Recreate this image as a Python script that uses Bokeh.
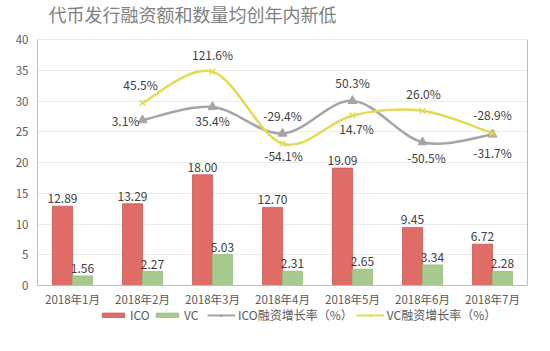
from bokeh.plotting import figure
from bokeh.models import (Range1d, FixedTicker, ColumnDataSource, Legend, LegendItem, Label, LinearAxis)
from bokeh.core.properties import value
from bokeh.embed import file_html
from bokeh.resources import INLINE

# ---- data ----
months = ["2018年1月", "2018年2月", "2018年3月", "2018年4月", "2018年5月", "2018年6月", "2018年7月"]
ico = [12.89, 13.29, 18.00, 12.70, 19.09, 9.45, 6.72]
vc = [1.56, 2.27, 5.03, 2.31, 2.65, 3.34, 2.28]
rate_months = months[1:]
ico_rate = [3.1, 35.4, -29.4, 50.3, -50.5, -31.7]
vc_rate = [45.5, 121.6, -54.1, 14.7, 26.0, -28.9]
y_ticks = [0, 5, 10, 15, 20, 25, 30, 35, 40]
title_text = "代币发行融资额和数量均创年内新低"

FONT = "Noto Sans CJK SC"
RED = "#E06C67"
RED_EDGE = "#C95B56"
GREEN = "#A7CB8F"
GREEN_EDGE = "#97BC80"
GRAY = "#A5A5A5"
YELLOW = "#E3DA55"
TXT = "#404040"
AX = "#BFBFBF"

# label offsets (screen px) for the rate labels  -- style only
ico_off = [(-17, 0), (0, 14), (0, -18), (0, -18), (4, 15), (0, 18)]
vc_off = [(-2, -18), (0, -17), (1, 12), (4, 13), (1, -17), (0, -19)]

# layout: the frame covers the page from y=0 to y=330; value axis 0..40 spans
# canvas y 285..39; title above and legend below live inside the frame.
FRAME_H = 330
TOP40, ZERO = 39, 285
PX_PER_UNIT = (ZERO - TOP40) / 40
y_hi = 40 + TOP40 / PX_PER_UNIT
y_lo = -(FRAME_H - ZERO) / PX_PER_UNIT
RATE_LO, RATE_HI = -400, 200
rpu = (RATE_HI - RATE_LO) / 40

p = figure(width=550, height=351, frame_width=490, frame_height=FRAME_H,
           output_backend="svg", toolbar_location=None,
           x_range=Range1d(0, len(months)), y_range=Range1d(y_lo, y_hi),
           min_border_left=37, min_border_right=23, min_border_top=0, min_border_bottom=0)
p.extra_y_ranges = {"rate": Range1d(RATE_LO + y_lo * rpu, RATE_LO + y_hi * rpu)}

p.add_layout(Label(x=11, y=FRAME_H - 13.5, x_units="screen", y_units="screen", text=title_text,
                   text_font_size="18px", text_color="#808080", text_font=FONT,
                   text_baseline="middle", text_align="left"))

xc = [i + 0.5 for i in range(len(months))]
bw = 20 / 70
src = ColumnDataSource(dict(
    xr=[x - bw / 2 for x in xc], xg=[x + bw / 2 for x in xc], ico=ico, vc=vc,
    ico_t=[f"{v:.2f}" for v in ico], vc_t=[f"{v:.2f}" for v in vc]))

r_ico = p.vbar(x="xr", top="ico", width=bw, source=src, fill_color=RED, line_color=RED_EDGE,
               line_width=0.8)
r_vc = p.vbar(x="xg", top="vc", width=bw, source=src, fill_color=GREEN, line_color=GREEN_EDGE,
              line_width=0.8)
p.text(x="xr", y="ico", text="ico_t", source=src, text_align="center", text_baseline="bottom",
       y_offset=-3, text_font_size="12px", text_color=TXT, text_font=value(FONT))
p.text(x="xg", y="vc", text="vc_t", source=src, text_align="center", text_baseline="bottom",
       y_offset=-3, text_font_size="12px", text_color=TXT, text_font=value(FONT))


def smooth(xs, ys):
    # Catmull-Rom -> cubic bezier control points
    n = len(xs)
    x0, y0, x1, y1, cx0, cy0, cx1, cy1 = [], [], [], [], [], [], [], []
    for i in range(n - 1):
        ip = max(i - 1, 0)
        inn = min(i + 2, n - 1)
        x0.append(xs[i]); y0.append(ys[i]); x1.append(xs[i + 1]); y1.append(ys[i + 1])
        cx0.append(xs[i] + (xs[i + 1] - xs[ip]) / 6)
        cy0.append(ys[i] + (ys[i + 1] - ys[ip]) / 6)
        cx1.append(xs[i + 1] - (xs[inn] - xs[i]) / 6)
        cy1.append(ys[i + 1] - (ys[inn] - ys[i]) / 6)
    return dict(x0=x0, y0=y0, x1=x1, y1=y1, cx0=cx0, cy0=cy0, cx1=cx1, cy1=cy1)


rx = xc[1:]
p.bezier(source=ColumnDataSource(smooth(rx, ico_rate)), x0="x0", y0="y0", x1="x1", y1="y1",
         cx0="cx0", cy0="cy0", cx1="cx1", cy1="cy1", line_color=GRAY, line_width=2.5,
         y_range_name="rate")
# one-point line: draws nothing in the plot, only provides the legend line sample
r_icol = p.line(x=rx[:1], y=ico_rate[:1], line_color=GRAY, line_width=2, y_range_name="rate")
r_icom = p.scatter(rx, ico_rate, marker="triangle", size=9, fill_color=GRAY, line_color=GRAY,
                   y_range_name="rate")
p.bezier(source=ColumnDataSource(smooth(rx, vc_rate)), x0="x0", y0="y0", x1="x1", y1="y1",
         cx0="cx0", cy0="cy0", cx1="cx1", cy1="cy1", line_color=YELLOW, line_width=2.5,
         y_range_name="rate")
r_vcl = p.line(x=rx[:1], y=vc_rate[:1], line_color=YELLOW, line_width=2, y_range_name="rate")
r_vcm = p.scatter(rx, vc_rate, marker="x", size=8, line_color=YELLOW, line_width=1.5,
                  y_range_name="rate")

p.text(x=rx, y=ico_rate, text=[f"{v:.1f}%" for v in ico_rate],
       x_offset=[o[0] for o in ico_off], y_offset=[o[1] for o in ico_off],
       text_align="center", text_baseline="middle", text_font_size="12px",
       text_color=TXT, text_font=value(FONT), y_range_name="rate")
p.text(x=rx, y=vc_rate, text=[f"{v:.1f}%" for v in vc_rate],
       x_offset=[o[0] for o in vc_off], y_offset=[o[1] for o in vc_off],
       text_align="center", text_baseline="middle", text_font_size="12px",
       text_color=TXT, text_font=value(FONT), y_range_name="rate")

# axes
p.xaxis.ticker = FixedTicker(ticks=xc)
p.xaxis.major_label_overrides = {x: m for x, m in zip(xc, months)}
p.xaxis.fixed_location = 0
p.yaxis.ticker = FixedTicker(ticks=y_ticks)
p.yaxis.bounds = (0, 40)
for ax in (p.xaxis, p.yaxis):
    ax.major_tick_line_color = None
    ax.minor_tick_line_color = None
    ax.major_tick_out = 0
    ax.major_tick_in = 0
    ax.axis_line_color = AX
    ax.major_label_text_font = FONT
    ax.major_label_text_font_size = "11.5px"
    ax.major_label_text_color = "#595959"
p.xaxis.major_label_standoff = 5
p.yaxis.major_label_standoff = 9
p.xgrid.grid_line_color = None
p.ygrid.grid_line_color = "#EBEBEB"
p.ygrid.ticker = FixedTicker(ticks=y_ticks[1:])
p.outline_line_color = None
p.background_fill_color = "white"

# right border of the plot box
rb = LinearAxis(bounds=(0, 40), major_tick_line_color=None, minor_tick_line_color=None,
                major_tick_out=0, major_label_text_font_size="0px", axis_line_color=AX,
                ticker=FixedTicker(ticks=[]))
p.add_layout(rb, "right")

legend = Legend(items=[
    LegendItem(label="ICO", renderers=[r_ico]),
    LegendItem(label="VC", renderers=[r_vc]),
    LegendItem(label="ICO融资增长率（%）", renderers=[r_icol, r_icom]),
    LegendItem(label="VC融资增长率（%）", renderers=[r_vcl, r_vcm]),
], orientation="horizontal", location=(62, 7), glyph_width=28, glyph_height=6,
    label_standoff=3, spacing=3, padding=0, margin=0, border_line_color=None,
    background_fill_alpha=0, label_text_font=FONT, label_text_font_size="12px",
    label_text_color="#595959", label_height=14)
p.add_layout(legend, "center")

open("out.html", "w").write(file_html(p, INLINE))
